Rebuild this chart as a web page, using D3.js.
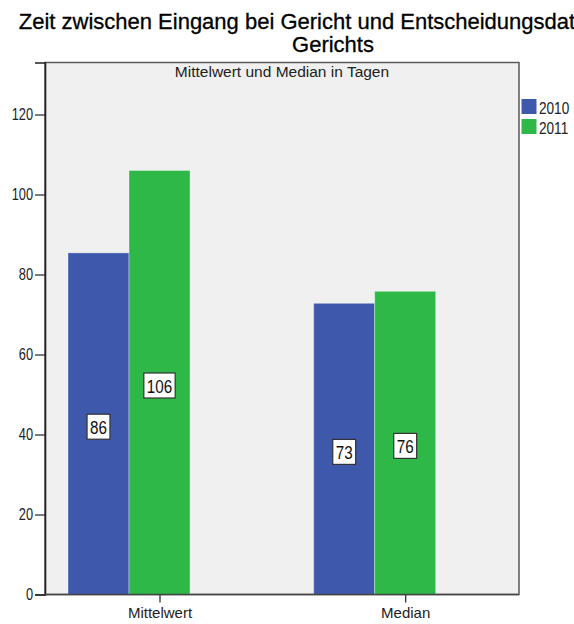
<!DOCTYPE html>
<html>
<head>
<meta charset="utf-8">
<script src="https://cdn.jsdelivr.net/npm/d3@7"></script>
<style>
  html, body { margin: 0; padding: 0; background: #fff; }
  svg { display: block; }
</style>
</head>
<body>
<div id="chart"></div>
<script>
/* ── Data ─────────────────────────────────────────────────────────── */
const CATEGORIES = ['Mittelwert', 'Median'];
const YEARS      = ['2010', '2011'];
const VALUES_2010 = [85.4, 72.8];
const VALUES_2011 = [106.0, 75.8];
const LABELS_2010 = ['86', '73'];
const LABELS_2011 = ['106', '76'];
const Y_TICKS     = [0, 20, 40, 60, 80, 100, 120];

const TITLE_LINES = ['Zeit zwischen Eingang bei Gericht und Entscheidungsdatum des', 'Gerichts'];
const SUBTITLE    = 'Mittelwert und Median in Tagen';

/* ── Style ────────────────────────────────────────────────────────── */
const W = 574, H = 624;
const COLORS = { '2010': '#3e58ac', '2011': '#2eb848' };
const SANS   = '"Liberation Sans", Arial, sans-serif';
const SQUEEZE = 0.8;   // narrow look of the SPSS digits

const PL = 45, PR = 519, PT = 62.5, PB = 594.5;

const rows = [];
CATEGORIES.forEach((c, i) => {
  rows.push({ cat: c, year: '2010', value: VALUES_2010[i], label: LABELS_2010[i] });
  rows.push({ cat: c, year: '2011', value: VALUES_2011[i], label: LABELS_2011[i] });
});

const svg = d3.select('#chart').append('svg')
  .attr('width', W).attr('height', H)
  .attr('viewBox', `0 0 ${W} ${H}`);

// squeezed text: position in outer coords, glyphs scaled horizontally
function narrowText(parent, x, y, size, anchor, str) {
  return parent.append('text')
    .attr('transform', `translate(${x},${y}) scale(${SQUEEZE},1)`)
    .attr('text-anchor', anchor)
    .attr('font-family', SANS).attr('font-size', size + 'px')
    .attr('fill', '#222')
    .text(str);
}

/* ── Scales ───────────────────────────────────────────────────────── */
const y = d3.scaleLinear().domain([0, 133]).range([PB, PT]);
const x = d3.scalePoint().domain(CATEGORIES).range([129, 374.7]);
const xSub = d3.scaleBand().domain(YEARS).range([-61, 61]).padding(0);

/* ── Title ────────────────────────────────────────────────────────── */
svg.append('text')
  .attr('x', 333).attr('y', 29)
  .attr('text-anchor', 'middle')
  .attr('font-family', SANS).attr('font-size', '22px')
  .attr('fill', '#000').attr('stroke', '#000').attr('stroke-width', 0.3)
  .selectAll('tspan').data(TITLE_LINES).join('tspan')
  .attr('x', 333).attr('dy', (d, i) => i === 0 ? 0 : 23)
  .text(d => d);

/* ── Plot frame ───────────────────────────────────────────────────── */
svg.append('rect')
  .attr('x', PL).attr('y', PT)
  .attr('width', PR - PL).attr('height', PB - PT)
  .attr('fill', '#f0f0f0')
  .attr('stroke', '#5a5a5a').attr('stroke-width', 1.5);

svg.append('text')
  .attr('x', (PL + PR) / 2).attr('y', 77)
  .attr('text-anchor', 'middle')
  .attr('font-family', SANS).attr('font-size', '15.5px')
  .attr('fill', '#222')
  .text(SUBTITLE);

/* ── Bars ─────────────────────────────────────────────────────────── */
const barG = svg.append('g');
barG.selectAll('rect').data(rows).join('rect')
  .attr('x', d => x(d.cat) + xSub(d.year))
  .attr('y', d => y(d.value))
  .attr('width', xSub.bandwidth())
  .attr('height', d => y(0) - y(d.value))
  .attr('fill', d => COLORS[d.year])
  .attr('stroke', '#ffffff').attr('stroke-opacity', 0.35).attr('stroke-width', 1);

/* ── Value labels ─────────────────────────────────────────────────── */
const lblG = svg.append('g');
rows.forEach(d => {
  const cx = x(d.cat) + xSub(d.year) + xSub.bandwidth() / 2;
  const cy = y(d.value / 2) + 3;
  const g = lblG.append('g');
  const t = narrowText(g, cx, cy + 7, 19, 'middle', d.label).attr('fill', '#111');
  const tw = t.node().getComputedTextLength() * SQUEEZE;
  g.insert('rect', 'text')
    .attr('x', cx - tw / 2 - 3).attr('y', cy - 12.5)
    .attr('width', tw + 6).attr('height', 25)
    .attr('fill', '#fff')
    .attr('stroke', '#333').attr('stroke-width', 1.2);
});

/* ── Axes ─────────────────────────────────────────────────────────── */
const yAxis = svg.append('g')
  .attr('transform', `translate(${PL},0)`)
  .call(d3.axisLeft(y).tickValues(Y_TICKS).tickSize(10).tickPadding(2).tickFormat(d3.format('d')));
yAxis.select('.domain').attr('stroke', '#222').attr('stroke-width', 1.6);
yAxis.selectAll('.tick line').attr('stroke', '#222').attr('stroke-width', 1.2);
yAxis.selectAll('.tick text')
  .attr('x', -12 / SQUEEZE)
  .attr('transform', `scale(${SQUEEZE},1)`)
  .attr('font-family', SANS).attr('font-size', '16px').attr('fill', '#222');

const xAxis = svg.append('g')
  .attr('transform', `translate(${xSub.bandwidth() / 2},${PB})`)
  .call(d3.axisBottom(x).tickSize(8).tickPadding(5));
xAxis.select('.domain').remove();
xAxis.selectAll('.tick line').attr('stroke', '#222').attr('stroke-width', 1.2);
xAxis.selectAll('.tick text')
  .attr('font-family', SANS).attr('font-size', '15px').attr('fill', '#222');

svg.append('line')
  .attr('x1', PL).attr('x2', PR).attr('y1', PB).attr('y2', PB)
  .attr('stroke', '#444').attr('stroke-width', 1.5);

/* ── Legend ───────────────────────────────────────────────────────── */
const leg = svg.append('g').attr('transform', 'translate(521.5,99)');
YEARS.forEach((yr, i) => {
  leg.append('rect')
    .attr('x', 0).attr('y', i * 20)
    .attr('width', 15).attr('height', 15)
    .attr('fill', COLORS[yr]);
  narrowText(leg, 17.5, i * 20 + 14.5, 17, 'start', yr);
});
</script>
</body>
</html>
